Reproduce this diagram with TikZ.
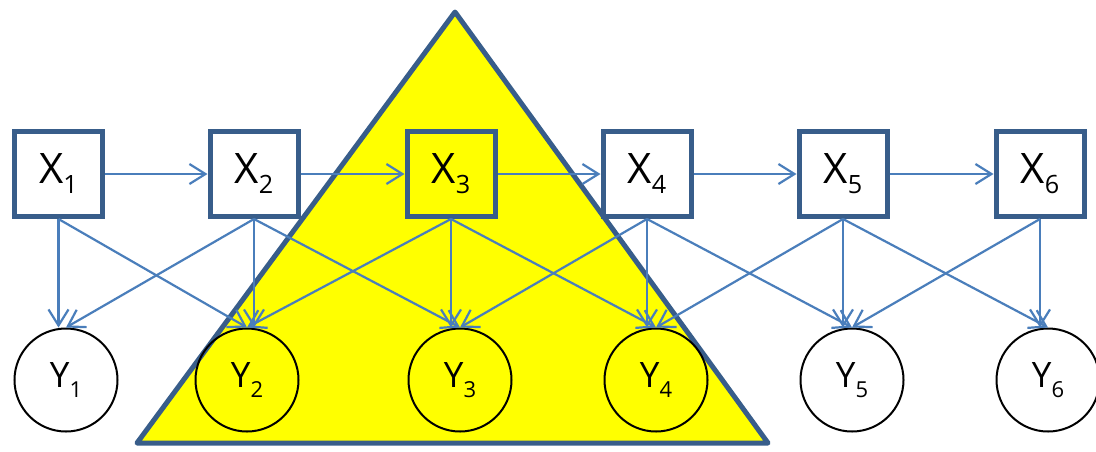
\documentclass[tikz,border=0pt]{standalone}
\usepackage{fontspec}
\setmainfont{Open Sans}
\usepackage{xcolor}
\usepackage{tikz}
\usetikzlibrary{arrows.meta}
\definecolor{MarcoAzul}{RGB}{56,93,138}
\definecolor{FlechaAzul}{RGB}{74,126,187}
\definecolor{ZonaAmarilla}{RGB}{255,255,0}
\newcommand{\nodelabel}[3]{#1\raisebox{-5pt}{\fontsize{#3}{#3}\selectfont #2}}

\begin{document}
\begin{tikzpicture}[x=0.5pt,y=-0.5pt,>={Straight Barb[length=8pt,width=10pt]},
  estado/.style={draw=MarcoAzul,line width=2.5pt,minimum width=44pt,minimum height=42.5pt,inner sep=0pt,font=\fontsize{21}{21}\selectfont},
  observa/.style={circle,draw=black,line width=1pt,minimum size=51.5pt,inner sep=0pt,font=\fontsize{17.5}{17.5}\selectfont},
  enlace/.style={->,draw=FlechaAzul,line width=1.1pt}]
  \useasboundingbox (0,0) rectangle (1096,451);
  % region of the picture that is marked
  \fill[ZonaAmarilla,draw=MarcoAzul,line width=2.5pt,line join=round]
    (455,12) -- (768,443) -- (137,443) -- cycle;
  % hidden chain
  \node[estado] (X1) at (58.5,174) {\nodelabel{X}{1}{12.6}};
  \node[estado] (X2) at (254,174) {\nodelabel{X}{2}{12.6}};
  \node[estado] (X3) at (451,174) {\nodelabel{X}{3}{12.6}};
  \node[estado] (X4) at (647,174) {\nodelabel{X}{4}{12.6}};
  \node[estado] (X5) at (843,174) {\nodelabel{X}{5}{12.6}};
  \node[estado] (X6) at (1040,174) {\nodelabel{X}{6}{12.6}};
  % observations
  \node[observa] (Y1) at (66,380) {\nodelabel{Y}{1}{11}};
  \node[observa] (Y2) at (247,380) {\nodelabel{Y}{2}{11}};
  \node[observa] (Y3) at (460,380) {\nodelabel{Y}{3}{11}};
  \node[observa] (Y4) at (656,380) {\nodelabel{Y}{4}{11}};
  \node[observa] (Y5) at (852,380) {\nodelabel{Y}{5}{11}};
  \node[observa] (Y6) at (1048,380) {\nodelabel{Y}{6}{11}};
  % transitions
  \draw[enlace] (X1) -- (X2);
  \draw[enlace] (X2) -- (X3);
  \draw[enlace] (X3) -- (X4);
  \draw[enlace] (X4) -- (X5);
  \draw[enlace] (X5) -- (X6);
  % emissions, straight down
  \draw[enlace] (X1.south) -- (X1.south |- Y1.north);
  \draw[enlace] (X2.south) -- (X2.south |- Y2.north);
  \draw[enlace] (X3.south) -- (X3.south |- Y3.north);
  \draw[enlace] (X4.south) -- (X4.south |- Y4.north);
  \draw[enlace] (X5.south) -- (X5.south |- Y5.north);
  \draw[enlace] (X6.south) -- (X6.south |- Y6.north);
  % emissions, to the neighbours
  \draw[enlace] (X1.south) -- (Y2.north);
  \draw[enlace] (X2.south) -- (Y1.north);
  \draw[enlace] (X2.south) -- (Y3.north);
  \draw[enlace] (X3.south) -- (Y2.north);
  \draw[enlace] (X3.south) -- (Y4.north);
  \draw[enlace] (X4.south) -- (Y3.north);
  \draw[enlace] (X4.south) -- (Y5.north);
  \draw[enlace] (X5.south) -- (Y4.north);
  \draw[enlace] (X5.south) -- (Y6.north);
  \draw[enlace] (X6.south) -- (Y5.north);
\end{tikzpicture}
\end{document}
